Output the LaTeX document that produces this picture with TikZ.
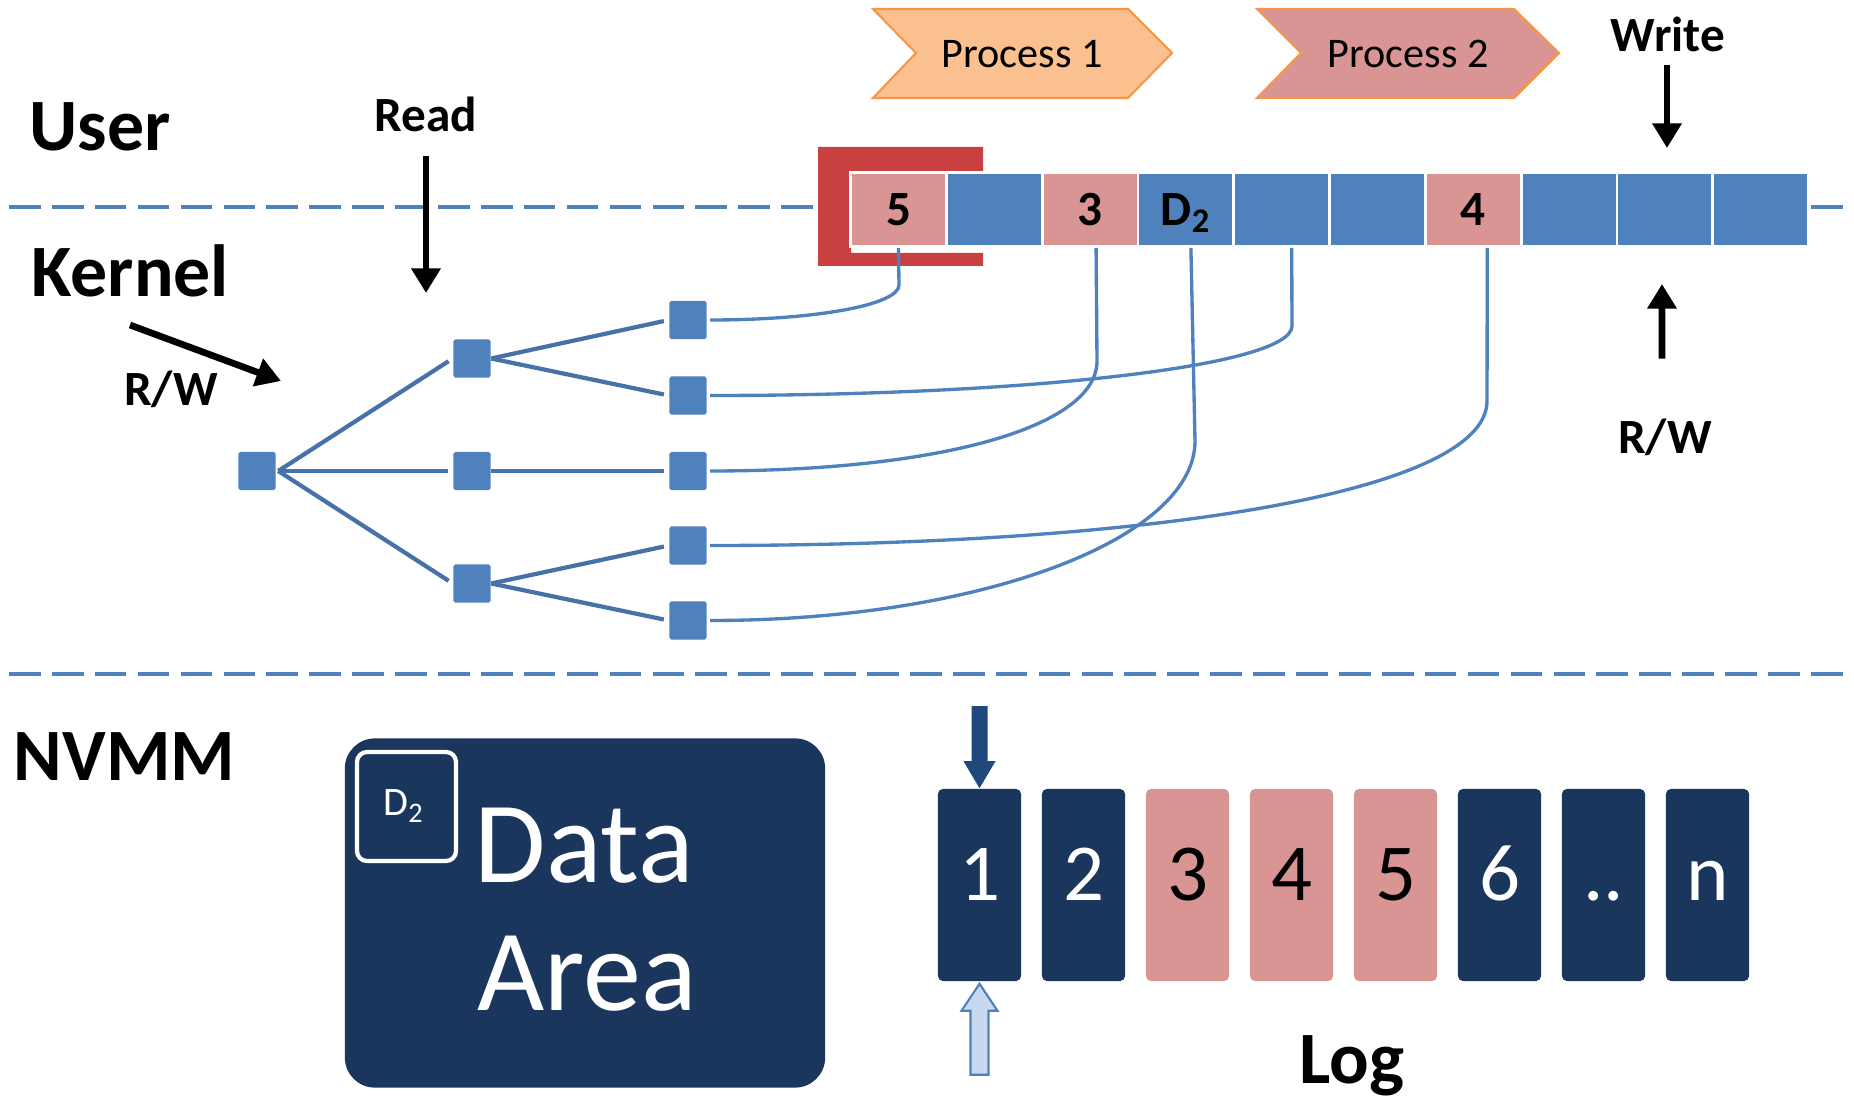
\documentclass[tikz,border=0pt]{standalone}
\usepackage{fontspec}
\setmainfont{Carlito}
\usetikzlibrary{arrows.meta,calc}
\definecolor{cellblue}{HTML}{4F81BD}
\definecolor{cellpink}{HTML}{D99594}
\definecolor{navy}{HTML}{1B365D}
\definecolor{treeline}{HTML}{4672A8}
\definecolor{procorange}{HTML}{FAC090}
\definecolor{procedge}{HTML}{F79646}
\definecolor{bracketred}{HTML}{C94040}
\definecolor{arrowblue}{HTML}{1F497D}
\definecolor{paleblue}{HTML}{C6D9F1}
\begin{document}
\begin{tikzpicture}[x=0.01cm,y=-0.01cm,
  sepline/.style={draw=cellblue,line width=1.1pt,dash pattern=on 9pt off 3.2pt},
  biglabel/.style={font=\bfseries\fontsize{21pt}{25pt}\selectfont,inner sep=0pt,anchor=base west},
  midlabel/.style={font=\bfseries\fontsize{14pt}{17pt}\selectfont,inner sep=0pt,anchor=base},
  proclabel/.style={font=\fontsize{12pt}{14pt}\selectfont,inner sep=0pt,anchor=base},
  procshape/.style={draw=procedge,line width=0.6pt,line join=miter},
  topcell/.style={draw=white,line width=0.8pt,minimum width=0.958cm,minimum height=0.738cm,
    inner sep=0pt,text height=0.9em,text depth=0pt,font=\bfseries\fontsize{14pt}{17pt}\selectfont},
  treenode/.style={fill=cellblue,minimum width=0.37cm,minimum height=0.38cm,inner sep=0pt,rounded corners=0.5pt},
  treeedge/.style={draw=treeline,line width=1.2pt,shorten >=0.05cm},
  linkline/.style={draw=cellblue,line width=0.95pt},
  blackarrow/.style={draw=black,line width=1.9pt,-{Triangle[length=7pt,width=8pt]}},
  logcell/.style={minimum width=0.83cm,minimum height=1.92cm,inner sep=0pt,rounded corners=0.05cm,
    text height=0.86em,text depth=0pt,font=\fontsize{23pt}{27pt}\selectfont}
]
\useasboundingbox (0,0) rectangle (1854,1097);

% layer separators
\draw[sepline] (9,207) -- (1845,207);
\draw[sepline] (9,674) -- (1845,674);

% layer names
\node[biglabel] (user) at (29,151) {User};
\node[biglabel] (kernel) at (31,297) {Kernel};
\node[biglabel] (nvmm) at (13,780) {NVMM};

% process chevrons
\fill[procorange,procshape] (873,9) -- (1128,9) -- (1172,53) -- (1128,98) -- (873,98) -- (916,53) -- cycle;
\node[proclabel] (proc1) at (1022,68) {Process 1};
\fill[cellpink,procshape] (1257,9) -- (1514,9) -- (1559,53) -- (1514,98) -- (1257,98) -- (1301,53) -- cycle;
\node[proclabel] (proc2) at (1408,68) {Process 2};

% red bracket around the first buffer slot
\fill[bracketred] (818,147) -- (983,147) -- (983,171) -- (851,171) -- (851,253) -- (983,253) -- (983,266) -- (818,266) -- cycle;

% buffer slots
\foreach \i/\t/\c in {0/5/cellpink,1//cellblue,2/3/cellpink,3/D\textsubscript{2}/cellblue,4//cellblue,
                      5//cellblue,6/4/cellpink,7//cellblue,8//cellblue,9//cellblue}
  \node[topcell,fill=\c] (c\i) at ({898.5+95.8*\i},209.5) {\t};

% read / write labels and arrows
\node[midlabel] (read) at (426,132) {Read};
\coordinate (readtip) at (426,293);
\draw[blackarrow] ([yshift=-0.23cm]read.south) -- (readtip);

\node[midlabel] (write) at (1668,52) {Write};
\coordinate (writetip) at (1667,148);
\draw[blackarrow] ([xshift=-0.01cm,yshift=-0.12cm]write.south) -- (writetip);

\node[midlabel] (rwleft) at (171,405) {R/W};
\coordinate (rwlstart) at (130,325);
\coordinate (rwltip) at (281,381);
\draw[blackarrow] (rwlstart) -- (rwltip);

\node[midlabel] (rwright) at (1665,453) {R/W};
\coordinate (rwrtip) at (1662,284);
\draw[blackarrow] ([xshift=-0.03cm,yshift=0.59cm]rwright.north) -- (rwrtip);

% index tree
\node[treenode] (r) at (257,471) {};
\node[treenode] (a) at (472,358.5) {};
\node[treenode] (b) at (472,471) {};
\node[treenode] (c) at (472,583.5) {};
\node[treenode] (p1) at (688,320) {};
\node[treenode] (p2) at (688,395.5) {};
\node[treenode] (p3) at (688,471) {};
\node[treenode] (p4) at (688,545.5) {};
\node[treenode] (p5) at (688,620.5) {};

\draw[treeedge] ([xshift=0.02cm]r.east) -- (a.west);
\draw[treeedge] ([xshift=0.02cm]r.east) -- (b.west);
\draw[treeedge] ([xshift=0.02cm]r.east) -- (c.west);
\draw[treeedge] (a.east) -- (p1.west);
\draw[treeedge] (a.east) -- (p2.west);
\draw[treeedge] (b.east) -- (p3.west);
\draw[treeedge] (c.east) -- (p4.west);
\draw[treeedge] (c.east) -- (p5.west);

% leaves pointing to buffer slots
\draw[linkline] ([xshift=0.03cm]p1.east) .. controls +(105,0) and +(0,20) .. (899,285) -- (c0.south);
\draw[linkline] ([xshift=0.03cm]p2.east) .. controls +(320,0) and +(0,40) .. (1292,326) -- ([xshift=0.1cm]c4.south);
\draw[linkline] ([xshift=0.03cm]p3.east) .. controls +(230,0) and +(0,66) .. (1097,361) -- ([xshift=0.06cm]c2.south);
\draw[linkline] ([xshift=0.03cm]p4.east) .. controls +(450,0) and +(0,90) .. (1487,401) -- ([xshift=0.14cm]c6.south);
\draw[linkline] ([xshift=0.03cm]p5.east) .. controls +(270,0) and +(0,98) .. (1195,441) -- ([xshift=0.05cm]c3.south);

% data area
\node[fill=navy,rounded corners=0.3cm,minimum width=4.8cm,minimum height=3.49cm,inner sep=0pt] (data) at (585,913) {};
\draw[white,line width=1.2pt,rounded corners=0.1cm] (357,752) rectangle (456,861);
\node[white,inner sep=0pt,font=\fontsize{11.5pt}{13pt}\selectfont] (d2) at (404,806) {D\textsubscript{2}};
\node[white,inner sep=0pt,anchor=base west,font=\fontsize{33pt}{38pt}\selectfont] (datatxt) at (474,882) {Data};
\node[white,inner sep=0pt,anchor=base west,font=\fontsize{33pt}{38pt}\selectfont] (areatxt) at (477,1010) {Area};

% log
\foreach \i/\t/\c/\tc in {0/1/navy/white,1/2/navy/white,2/3/cellpink/black,3/4/cellpink/black,
                          4/5/cellpink/black,5/6/navy/white,6/../navy/white,7/n/navy/white}
  \node[logcell,fill=\c,text=\tc] (l\i) at ({979.5+104*\i},885) {\t};
\node[inner sep=0pt,anchor=base,font=\bfseries\fontsize{21pt}{25pt}\selectfont] (logtxt) at (1352,1083) {Log};

% log head and tail pointers
\begin{scope}[shift={(l0.north)}]
  \fill[arrowblue] (-8,-82) -- (8,-82) -- (8,-27) -- (16,-27) -- (0,0) -- (-16,-27) -- (-8,-27) -- cycle;
\end{scope}
\begin{scope}[shift={(l0.south)}]
  \filldraw[fill=paleblue,draw=cellblue,line width=0.6pt] (-9,93) -- (9,93) -- (9,29) -- (18,29) -- (0,2) -- (-18,29) -- (-9,29) -- cycle;
\end{scope}
\end{tikzpicture}
\end{document}
